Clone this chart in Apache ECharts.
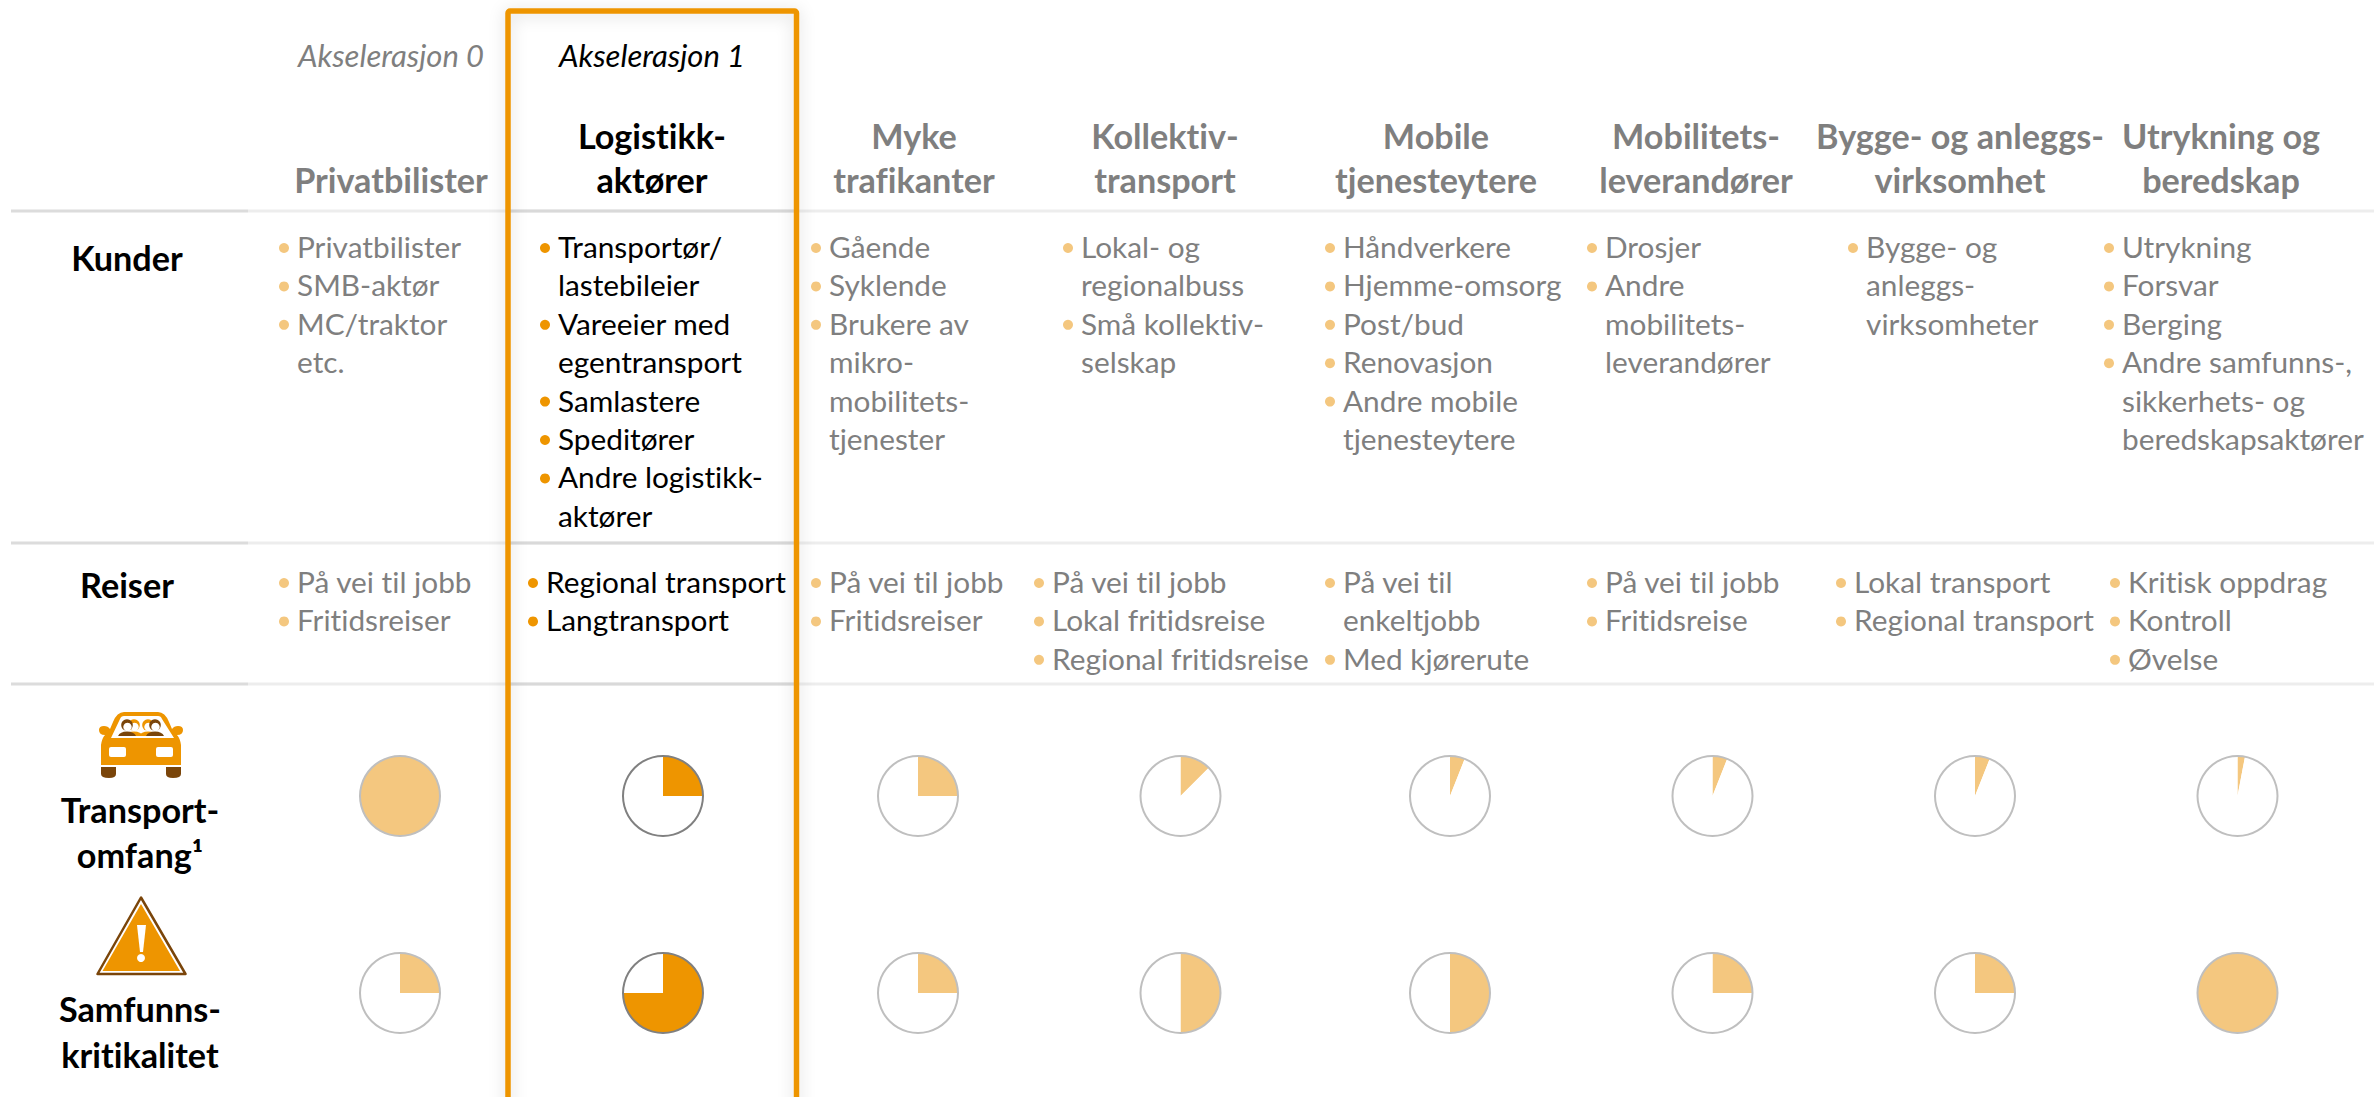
<!DOCTYPE html>
<html>
<head>
<meta charset="utf-8">
<title>Akselerasjon</title>
<script src="https://cdn.jsdelivr.net/npm/echarts@6/dist/echarts.min.js"></script>
<style>
  html, body { margin: 0; padding: 0; background: #fff; }
  #chart { width: 2374px; height: 1097px; }
  #chart text { font-variant-ligatures: none !important; }
</style>
</head>
<body>
<div id="chart"></div>
<script>
// chart data
const phases = ['Akselerasjon 0', 'Akselerasjon 1'];
const segments = [
  ['Privatbilister'],
  ['Logistikk-', 'aktører'],
  ['Myke', 'trafikanter'],
  ['Kollektiv-', 'transport'],
  ['Mobile', 'tjenesteytere'],
  ['Mobilitets-', 'leverandører'],
  ['Bygge- og anleggs-', 'virksomhet'],
  ['Utrykning og', 'beredskap']
];
const kunder = [
  [['Privatbilister'], ['SMB-aktør'], ['MC/traktor', 'etc.']],
  [['Transportør/', 'lastebileier'], ['Vareeier med', 'egentransport'], ['Samlastere'], ['Speditører'], ['Andre logistikk-', 'aktører']],
  [['Gående'], ['Syklende'], ['Brukere av', 'mikro-', 'mobilitets-', 'tjenester']],
  [['Lokal- og', 'regionalbuss'], ['Små kollektiv-', 'selskap']],
  [['Håndverkere'], ['Hjemme-omsorg'], ['Post/bud'], ['Renovasjon'], ['Andre mobile', 'tjenesteytere']],
  [['Drosjer'], ['Andre', 'mobilitets-', 'leverandører']],
  [['Bygge- og', 'anleggs-', 'virksomheter']],
  [['Utrykning'], ['Forsvar'], ['Berging'], ['Andre samfunns-,', 'sikkerhets- og', 'beredskapsaktører']]
];
const reiser = [
  [['På vei til jobb'], ['Fritidsreiser']],
  [['Regional transport'], ['Langtransport']],
  [['På vei til jobb'], ['Fritidsreiser']],
  [['På vei til jobb'], ['Lokal fritidsreise'], ['Regional fritidsreise']],
  [['På vei til', 'enkeltjobb'], ['Med kjørerute']],
  [['På vei til jobb'], ['Fritidsreise']],
  [['Lokal transport'], ['Regional transport']],
  [['Kritisk oppdrag'], ['Kontroll'], ['Øvelse']]
];
const transportomfang = [100, 25, 25, 12.5, 6, 6, 6, 3];
const samfunnskritikalitet = [25, 75, 25, 50, 50, 25, 25, 100];

// layout
const W = 2374;
const HIGHLIGHT = 1;
const ORANGE = '#EE9500';
const LIGHT = '#F4C77F';
const BROWN = '#7A450A';
const GREY = '#7F7F7F';
const FONT = 'Lato, "Noto Sans", sans-serif';

const headerX = [391, 652, 914, 1165, 1436, 1696, 1960, 2221];
const pieX = [400, 663, 918, 1180.5, 1450, 1712.5, 1975, 2237.5];
const pieY = [796, 993];
const pieR = 40;
const kunderBulletX = [284, 545, 816, 1068, 1330, 1592, 1853, 2109];
const reiserBulletX = [284, 533, 816, 1039, 1330, 1592, 1841, 2115];
const ruleY = [211, 543, 684];

const graphics = [];

const text = (x, y, str, opt) => graphics.push({
  type: 'text',
  silent: true,
  z: 5,
  style: Object.assign({
    x: x, y: y, text: str, fill: GREY, font: `29.8px ${FONT}`,
    textAlign: 'center', textVerticalAlign: 'middle'
  }, opt)
});

// the graphic component has no plain path type, so svg paths get registered as shapes
let pathCount = 0;
const pathEl = (d, fill) => {
  const name = 'iconPath' + pathCount++;
  echarts.graphic.registerShape(name, echarts.graphic.extendPath(d, {}));
  return {type: name, style: {fill: fill}};
};

// rules between the rows
ruleY.forEach(y => {
  graphics.push({type: 'line', silent: true, z: 1,
    shape: {x1: 248, y1: y, x2: W, y2: y}, style: {stroke: '#EDEDED', lineWidth: 3}});
  graphics.push({type: 'line', silent: true, z: 1,
    shape: {x1: 11, y1: y, x2: 248, y2: y}, style: {stroke: '#DCDCDC', lineWidth: 3}});
  graphics.push({type: 'line', silent: true, z: 2,
    shape: {x1: 510, y1: y, x2: 795, y2: y}, style: {stroke: '#D9D9D9', lineWidth: 3}});
});

// highlight frame
graphics.push({
  type: 'rect', silent: true, z: 3,
  shape: {x: 508, y: 11, width: 288.5, height: 1110, r: 2},
  style: {fill: 'none', stroke: ORANGE, lineWidth: 5.5,
    shadowBlur: 16, shadowColor: 'rgba(0,0,0,0.16)', shadowOffsetY: 2}
});

phases.forEach((p, i) => text(headerX[i], 54.5, p, {
  font: `italic 31px ${FONT}`, fill: i === HIGHLIGHT ? '#000' : GREY
}));

segments.forEach((lines, c) => {
  const fill = c === HIGHLIGHT ? '#000' : GREY;
  lines.forEach((line, i) => {
    const y = 179.5 - (lines.length - 1 - i) * 43.6;
    text(headerX[c], y, line, {font: `bold 34.2px ${FONT}`, fill: fill});
  });
});

// bullet lists
const drawList = (items, c, bulletX, top) => {
  const on = c === HIGHLIGHT;
  let row = 0;
  items.forEach(item => {
    graphics.push({type: 'circle', silent: true, z: 5,
      shape: {cx: bulletX, cy: top + row * 38.4, r: 5},
      style: {fill: on ? ORANGE : LIGHT}});
    item.forEach(line => {
      text(bulletX + 13, top - 1.5 + row * 38.4, line, {textAlign: 'left', fill: on ? '#000' : GREY});
      row++;
    });
  });
};
kunder.forEach((items, c) => drawList(items, c, kunderBulletX[c], 248));
reiser.forEach((items, c) => drawList(items, c, reiserBulletX[c], 583));

// row titles
const rowTitle = (x, y, str) => text(x, y, str, {font: `bold 34.2px ${FONT}`, fill: '#000'});
rowTitle(127, 257.5, 'Kunder');
rowTitle(127, 584, 'Reiser');
rowTitle(140, 809.5, 'Transport-');
rowTitle(140, 854, 'omfang¹');
rowTitle(140, 1008, 'Samfunns-');
rowTitle(140, 1054, 'kritikalitet');

// car icon
const person = (x, hair, shirt) => [
  {type: 'circle', shape: {cx: x, cy: 725, r: 5.8}, style: {fill: hair}},
  {type: 'circle', shape: {cx: x + 0.5, cy: 727, r: 4.2}, style: {fill: '#fff'}},
  pathEl(`M${x - 9} 736 Q${x - 7} 731.5 ${x} 731.5 Q${x + 7} 731.5 ${x + 9} 736 Z`, shirt)
];
graphics.push({
  type: 'group', silent: true, z: 5,
  children: [
    pathEl('M101 765 L101 745 Q102 738 105 735 Q99 735 99 730 Q99 726 104 726 Q108 726 110 729 L113 722 Q117 712 124 712 L158 712 Q165 712 169 722 L172 729 Q174 726 178 726 Q183 726 183 730 Q183 735 177 735 Q180 738 181 745 L181 765 Z', ORANGE),
    pathEl('M111 738 L120 719 Q121 716 124 716 L158 716 Q161 716 162 719 L174 738 Z', '#fff'),
    {type: 'rect', shape: {x: 109, y: 747, width: 17, height: 10, r: 2}, style: {fill: '#fff'}},
    {type: 'rect', shape: {x: 156, y: 747, width: 17, height: 10, r: 2}, style: {fill: '#fff'}},
    pathEl('M101 767 L116 767 L116 774 Q116 778 109 778 Q101 778 101 774 Z', BROWN),
    pathEl('M166 767 L181 767 L181 774 Q181 778 173 778 Q166 778 166 774 Z', BROWN),
    ...person(134, ORANGE, ORANGE),
    ...person(148, ORANGE, ORANGE),
    ...person(127, BROWN, BROWN),
    ...person(155, BROWN, BROWN)
  ]
});

// warning icon
graphics.push({
  type: 'group', silent: true, z: 5,
  children: [
    {type: 'polygon', shape: {points: [[141, 897.5], [97.5, 974], [185.5, 974]]},
      style: {fill: '#fff', stroke: BROWN, lineWidth: 2.5, lineJoin: 'round'}},
    {type: 'polygon', shape: {points: [[141, 904], [102.5, 971], [180, 971]]}, style: {fill: ORANGE}},
    {type: 'polygon', shape: {points: [[137, 925], [146, 925], [143, 952], [140, 952]]}, style: {fill: '#fff'}},
    {type: 'circle', shape: {cx: 141, cy: 958, r: 4}, style: {fill: '#fff'}}
  ]
});

// one pie per cell, drawn from the two value arrays
const series = [];
[transportomfang, samfunnskritikalitet].forEach((values, r) => {
  values.forEach((v, c) => {
    const on = c === HIGHLIGHT;
    series.push({
      type: 'pie',
      silent: true,
      animation: false,
      center: [pieX[c], pieY[r]],
      radius: [0, pieR],
      startAngle: 90,
      label: {show: false},
      labelLine: {show: false},
      data: [
        {value: v, itemStyle: {color: on ? ORANGE : LIGHT}},
        {value: 100 - v, itemStyle: {color: '#fff'}}
      ]
    });
    // outline
    series.push({
      type: 'pie',
      silent: true,
      animation: false,
      center: [pieX[c], pieY[r]],
      radius: [pieR - 1, pieR + 1],
      label: {show: false},
      labelLine: {show: false},
      itemStyle: {color: on ? '#808080' : '#BFBFBF'},
      data: [{value: 1}]
    });
  });
});

const chart = echarts.init(document.getElementById('chart'), null, {renderer: 'svg'});
chart.setOption({
  animation: false,
  backgroundColor: '#fff',
  tooltip: {show: false},
  graphic: graphics,
  series: series
});
</script>
</body>
</html>
